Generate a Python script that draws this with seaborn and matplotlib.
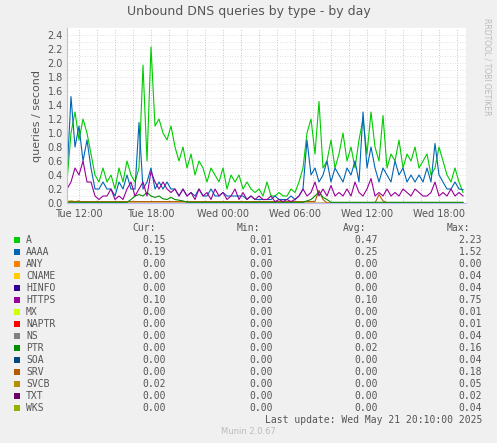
import numpy as np
import pandas as pd
import matplotlib
matplotlib.use("Agg")
import matplotlib.pyplot as plt
import seaborn as sns

# 20-minute samples starting Tue 11:00
a_vals = [0.3, 1.0, 1.3, 0.9, 1.2, 1.0, 0.7, 0.4, 0.3, 0.5, 0.3, 0.4, 0.2, 0.5, 0.3, 0.6, 0.4, 0.3, 0.5, 1.97, 0.6, 2.23, 1.1, 1.2, 1.0, 0.9, 1.1, 0.8, 0.6, 0.8, 0.5, 0.7, 0.4, 0.6, 0.5, 0.3, 0.5, 0.4, 0.3, 0.5, 0.2, 0.4, 0.3, 0.4, 0.2, 0.3, 0.2, 0.15, 0.2, 0.1, 0.3, 0.1, 0.1, 0.15, 0.1, 0.1, 0.2, 0.15, 0.3, 0.5, 1.0, 1.2, 0.7, 1.45, 0.5, 0.6, 0.9, 0.5, 0.7, 1.0, 0.6, 0.8, 0.5, 0.9, 1.2, 0.7, 1.3, 0.8, 0.6, 1.25, 0.5, 0.7, 0.6, 0.9, 0.5, 0.7, 0.6, 0.8, 0.5, 0.6, 0.7, 0.4, 0.5, 0.8, 0.6, 0.4, 0.3, 0.5, 0.3, 0.15]
aaaa_vals = [0.4, 1.52, 0.8, 1.1, 0.6, 0.9, 0.5, 0.2, 0.2, 0.3, 0.2, 0.2, 0.1, 0.3, 0.2, 0.4, 0.2, 0.2, 1.15, 0.2, 0.3, 0.5, 0.2, 0.3, 0.2, 0.3, 0.2, 0.2, 0.1, 0.2, 0.1, 0.15, 0.1, 0.2, 0.1, 0.1, 0.2, 0.1, 0.1, 0.15, 0.1, 0.1, 0.1, 0.1, 0.1, 0.05, 0.1, 0.05, 0.05, 0.05, 0.05, 0.05, 0.1, 0.05, 0.05, 0.05, 0.1, 0.05, 0.1, 0.2, 0.9, 0.4, 0.5, 0.3, 0.4, 0.6, 0.3, 0.5, 0.4, 0.3, 0.5, 0.4, 0.6, 0.3, 1.3, 0.5, 0.8, 0.5, 0.3, 0.5, 0.4, 0.3, 0.6, 0.4, 0.5, 0.3, 0.4, 0.3, 0.4, 0.3, 0.5, 0.3, 0.85, 0.4, 0.3, 0.2, 0.2, 0.3, 0.2, 0.19]
https_vals = [0.2, 0.3, 0.5, 0.4, 0.6, 0.3, 0.3, 0.1, 0.05, 0.1, 0.1, 0.2, 0.05, 0.1, 0.05, 0.2, 0.3, 0.1, 0.2, 0.3, 0.1, 0.45, 0.3, 0.2, 0.3, 0.2, 0.15, 0.2, 0.1, 0.2, 0.1, 0.15, 0.05, 0.2, 0.1, 0.15, 0.05, 0.2, 0.1, 0.15, 0.05, 0.1, 0.2, 0.05, 0.15, 0.05, 0.1, 0.05, 0.1, 0.05, 0.05, 0.1, 0.02, 0.05, 0.02, 0.05, 0.02, 0.05, 0.1, 0.2, 0.1, 0.15, 0.3, 0.1, 0.2, 0.1, 0.25, 0.1, 0.15, 0.1, 0.2, 0.1, 0.3, 0.15, 0.1, 0.2, 0.35, 0.1, 0.15, 0.1, 0.2, 0.1, 0.15, 0.1, 0.2, 0.15, 0.1, 0.2, 0.15, 0.1, 0.1, 0.15, 0.3, 0.1, 0.15, 0.1, 0.2, 0.1, 0.15, 0.1]
ptr_vals = [0.01] * 16 + [0.05, 0.1, 0.12, 0.1, 0.15, 0.1, 0.08, 0.1, 0.06, 0.05, 0.08, 0.05, 0.04, 0.03] + [0.01] * 30 + [0.03, 0.05, 0.1, 0.16, 0.08, 0.05] + [0.01] * 40
srv_vals = [0.02] * 63 + [0.18, 0.05] + [0.0] * 13 + [0.12, 0.03] + [0.0] * 30
svcb_vals = [0.02, 0.03, 0.02, 0.03] + [0.0] * 110

legend_names = ["A", "AAAA", "ANY", "CNAME", "HINFO", "HTTPS", "MX", "NAPTR", "NS", "PTR", "SOA", "SRV", "SVCB", "TXT", "WKS"]
legend_colors = ["#00cc00", "#0066b3", "#ff8000", "#ffcc00", "#330099", "#990099", "#ccff00", "#ff0000", "#808080", "#008f00", "#00487d", "#b35a00", "#b38f00", "#6b006b", "#8fb300"]
cur_vals = ["0.15", "0.19", "0.00", "0.00", "0.00", "0.10", "0.00", "0.00", "0.00", "0.00", "0.00", "0.00", "0.02", "0.00", "0.00"]
min_vals = ["0.01", "0.01", "0.00", "0.00", "0.00", "0.00", "0.00", "0.00", "0.00", "0.00", "0.00", "0.00", "0.00", "0.00", "0.00"]
avg_vals = ["0.47", "0.25", "0.00", "0.00", "0.00", "0.10", "0.00", "0.00", "0.00", "0.02", "0.00", "0.00", "0.00", "0.00", "0.00"]
max_vals = ["2.23", "1.52", "0.00", "0.04", "0.04", "0.75", "0.01", "0.01", "0.04", "0.16", "0.04", "0.18", "0.05", "0.02", "0.04"]

n = min(len(a_vals), len(aaaa_vals), len(https_vals))
hours = np.arange(n) / 3.0 + 11.0
df = pd.DataFrame({"hour": hours, "A": a_vals[:n], "AAAA": aaaa_vals[:n], "HTTPS": https_vals[:n],
                   "PTR": ptr_vals[:n], "SRV": srv_vals[:n], "SVCB": svcb_vals[:n]})
long = df.melt(id_vars="hour", var_name="type", value_name="qps")
pal = {nm: c for nm, c in zip(legend_names, legend_colors)}

fig = plt.figure(figsize=(4.97, 4.43), dpi=100, facecolor="#f0f0f0")
ax = fig.add_axes([67 / 497, 1 - 203 / 443, 399 / 497, 175 / 443])
ax.set_facecolor("white")
sns.lineplot(data=long, x="hour", y="qps", hue="type", hue_order=["SVCB", "SRV", "PTR", "A", "AAAA", "HTTPS"],
             palette=pal, lw=0.8, legend=False, ax=ax)
ax.set_xlim(11, 11 + 399 / 12)
ax.set_ylim(0, 2.5)
yt = np.arange(0, 2.41, 0.2)
ax.set_yticks(yt)
ax.set_yticklabels([f"{v:.1f}" for v in yt])
ax.set_yticks(np.arange(0, 2.5, 0.1), minor=True)
ax.set_xticks([12, 18, 24, 30, 36, 42])
ax.set_xticklabels(["Tue 12:00", "Tue 18:00", "Wed 00:00", "Wed 06:00", "Wed 12:00", "Wed 18:00"])
ax.set_xticks(np.arange(12, 44.5, 1.5), minor=True)
ax.grid(which="both", axis="y", color="#d8d8d8", ls=(0, (1, 2)), lw=0.6)
ax.grid(which="both", axis="x", color="#e0a0a0", ls=(0, (1, 2)), lw=0.6)
ax.tick_params(which="both", length=0, labelsize=7, colors="#555555")
ax.tick_params(axis="y", pad=3)
ax.tick_params(axis="x", pad=4)
for s in ["top", "right"]:
    ax.spines[s].set_visible(False)
ax.spines["left"].set_color("#bbbbff")
ax.spines["bottom"].set_color("#bbbbff")
ax.set_ylabel("queries / second", fontsize=8, color="#555555")
ax.set_xlabel("")
fig.text(0.5, 1 - 12 / 443, "Unbound DNS queries by type - by day", ha="center", va="center", fontsize=9, color="#555555")
fig.text(487 / 497, 0.85, "RRDTOOL / TOBI OETIKER", rotation=270, fontsize=5.5, color="#bbbbbb", ha="center", va="center")

mono = dict(family="DejaVu Sans Mono", fontsize=7, color="#555555")
y0 = 228
fig.text(132 / 497, 1 - y0 / 443, "Cur:", ha="left", va="center", **mono)
fig.text(260 / 497, 1 - y0 / 443, "Min:", ha="right", va="center", **mono)
fig.text(366 / 497, 1 - y0 / 443, "Avg:", ha="right", va="center", **mono)
fig.text(470 / 497, 1 - y0 / 443, "Max:", ha="right", va="center", **mono)
for i, name in enumerate(legend_names):
    yy = 1 - (y0 + 12 * (i + 1)) / 443
    fig.patches.append(plt.Rectangle((14 / 497, yy - 3 / 443), 6 / 497, 6 / 443, transform=fig.transFigure,
                                     facecolor=legend_colors[i], edgecolor="none"))
    fig.text(26 / 497, yy, name, ha="left", va="center", **mono)
    fig.text(166 / 497, yy, cur_vals[i], ha="right", va="center", **mono)
    fig.text(273 / 497, yy, min_vals[i], ha="right", va="center", **mono)
    fig.text(378 / 497, yy, avg_vals[i], ha="right", va="center", **mono)
    fig.text(482 / 497, yy, max_vals[i], ha="right", va="center", **mono)
fig.text(482 / 497, 1 - 420 / 443, "Last update: Wed May 21 20:10:00 2025", ha="right", va="center", **mono)
fig.text(248 / 497, 1 - 432 / 443, "Munin 2.0.67", ha="center", va="center", fontsize=6, color="#bbbbbb")

fig.savefig("out.png", dpi=100, facecolor=fig.get_facecolor())
